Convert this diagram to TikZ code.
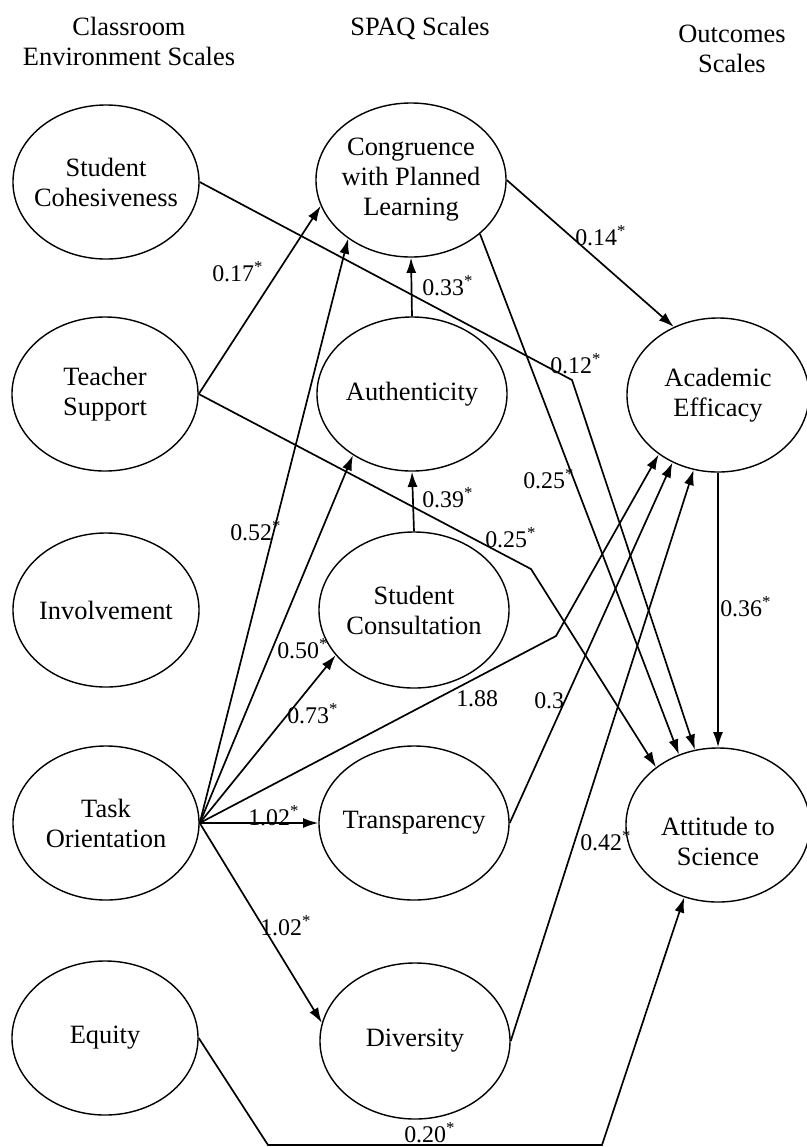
\documentclass[tikz,border=0pt]{standalone}
\usepackage{fontspec}
\setmainfont{Liberation Serif}
\usetikzlibrary{shapes.geometric,arrows.meta}
\tikzset{
    construct/.style={ellipse,draw,line width=1pt,inner sep=0pt,inner xsep=-0.2cm,
        minimum width=4.75cm,minimum height=3.85cm,align=center,font=\fontsize{18.8}{21.3}\selectfont},
    titre/.style={align=center,inner sep=0pt,font=\fontsize{18.8}{21.3}\selectfont},
    fleche/.style={line width=1.2pt,-{Latex[length=0.38cm,width=0.25cm]}},
    coef/.style={anchor=base west,inner sep=0pt,font=\fontsize{17}{20}\selectfont},
}
\newcommand{\etoile}[1]{#1\textsuperscript{*}}

\begin{document}
\begin{tikzpicture}[x=0.025cm,y=-0.025cm]
    \useasboundingbox (0,0) rectangle (807,1147);

    %TITRES
    \node[titre] (tclass) at (129,41) {Classroom\\Environment Scales};
    \node[titre] (tspaq) at (420,28) {SPAQ Scales};
    \node[titre] (tout) at (732,49) {Outcomes\\Scales};

    %ELLIPSES
    \node[construct,minimum width=4.65cm] (coh) at (106,182) {Student\\Cohesiveness};
    \node[construct,minimum width=4.65cm] (teach) at (105,394) {Teacher\\Support};
    \node[construct,minimum width=4.65cm] (inv) at (106,610) {Involvement};
    \node[construct,minimum width=4.65cm] (task) at (106,823) {Task\\Orientation};
    \node[construct,minimum width=4.65cm] (eq) at (105,1038) {Equity};

    \node[construct] (cong) at (411,180) {Congruence\\with Planned\\Learning};
    \node[construct] (auth) at (412,394) {Authenticity};
    \node[construct,minimum height=3.9cm] (cons) at (414,610) {Student\\Consultation};
    \node[construct] (trans) at (414,823) {Transparency};
    \node[construct,minimum height=3.9cm] (div) at (415,1041) {Diversity};

    \node[construct,minimum width=4.55cm] (acad) at (718,395) {Academic\\Efficacy};
    \node[construct,minimum width=4.6cm,label={[titre,yshift=-0.42cm]center:Attitude to\\Science}] (att) at (718,825) {};

    %coudes
    \coordinate (b1) at (572,380);
    \coordinate (b2) at (531,569);
    \coordinate (b3) at (556,636);
    \coordinate (b4) at (268,1145);
    \coordinate (b5) at (602,1145);

    %CHEMINS
    \draw[fleche] (teach.east) -- (cong.196);
    \draw[fleche] (task.east) -- (cong.223);
    \draw[fleche] (task.east) -- (auth.226);
    \draw[fleche] (task.east) -- (cons.210);
    \draw[fleche] (task.east) -- (trans.west);
    \draw[fleche] (task.east) -- (div.169);
    \draw[fleche] (task.east) -- (b3) -- (acad.225);
    \draw[fleche] (trans.east) -- (acad.236);
    \draw[fleche] (div.east) -- (acad.252);
    \draw[fleche] (coh.east) -- (b1) -- (att.107);
    \draw[fleche] (cong.322) -- (att.119);
    \draw[fleche] (teach.east) -- (b2) -- (att.137);
    \draw[fleche] (acad.south) -- (att.north);
    \draw[fleche] (cong.east) -- (acad.123);
    \draw[fleche] (auth.north) -- (cong.south);
    \draw[fleche] (cons.north) -- (auth.south);
    \draw[fleche] (eq.east) -- (b4) -- (b5) -- (att.245);

    %coefficients
    \node[coef] (c17) at (212,281) {\etoile{0.17}};
    \node[coef] (c14) at (575,245) {\etoile{0.14}};
    \node[coef] (c33) at (422,295) {\etoile{0.33}};
    \node[coef] (c12) at (550,373) {\etoile{0.12}};
    \node[coef] (c25a) at (523,488) {\etoile{0.25}};
    \node[coef] (c39) at (422,507) {\etoile{0.39}};
    \node[coef] (c25b) at (485,547) {\etoile{0.25}};
    \node[coef] (c52) at (230,540) {\etoile{0.52}};
    \node[coef] (c50) at (277,658) {\etoile{0.50}};
    \node[coef] (c36) at (720,616) {\etoile{0.36}};
    \node[coef] (c73) at (287,723) {\etoile{0.73}};
    \node[coef] (c188) at (456,706) {1.88};
    \node[coef] (c3) at (534,708) {0.3};
    \node[coef] (c102a) at (248,825) {\etoile{1.02}};
    \node[coef] (c42) at (580,850) {\etoile{0.42}};
    \node[coef] (c102b) at (260,935) {\etoile{1.02}};
    \node[coef] (c20) at (404,1142) {\etoile{0.20}};
\end{tikzpicture}
\end{document}
